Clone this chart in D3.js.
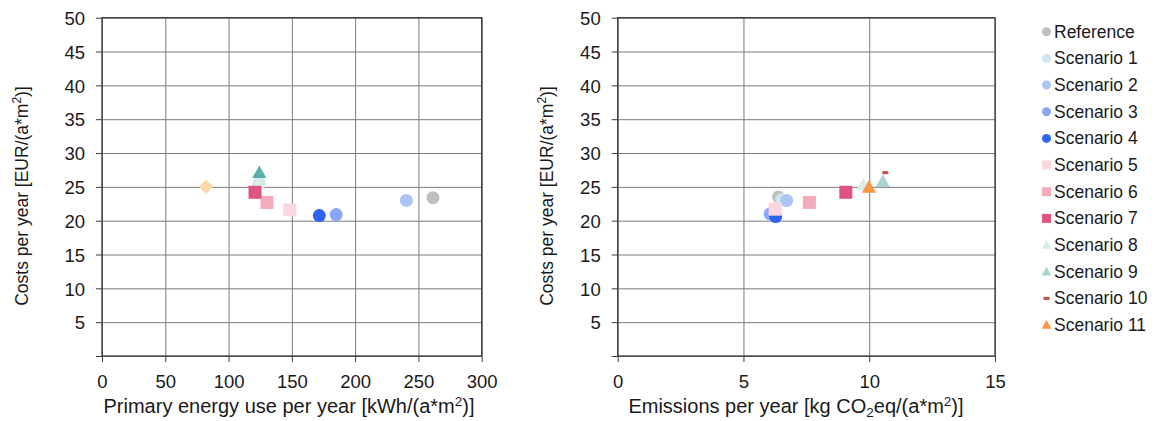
<!DOCTYPE html>
<html><head><meta charset="utf-8">
<script src="https://cdn.jsdelivr.net/npm/d3@7"></script>
<style>body{margin:0;background:#fff}svg{display:block;font-family:"Liberation Sans",Arial,sans-serif}</style>
</head><body><svg id="c" width="1158" height="421"></svg>
<script>
const seriesNames = ["Reference","Scenario 1","Scenario 2","Scenario 3","Scenario 4","Scenario 5","Scenario 6","Scenario 7","Scenario 8","Scenario 9","Scenario 10","Scenario 11"];
const seriesShapes = ["circle","circle","circle","circle","circle","square","square","square","triangle","triangle","dash","triangle"];
const seriesColors = ["#bfbfbf","#d2e6ea","#adc5f5","#8ba6f8","#2f63f5","#fcd6df","#f4abbc","#df5380","#d8ecea","#a9d6d3","#c0504d","#f79646"];
// Left chart: primary energy [kWh/(a*m2)] vs costs [EUR/(a*m2)]
const energyValues = [261.5, 124, 240.5, 185, 171.7, 148.5, 130.4, 120.9, 123.5, 124.3, null, null];
const energyCosts  = [23.4, 25.5, 23.0, 20.9, 20.75, 21.6, 22.7, 24.2, 25.5, 27.1, null, null];
const energyColorOverride = {"Scenario 9": "#5aaeab"};
const extraDiamondX = [82.2];
const extraDiamondY = [25.0];
const extraDiamondColor = "#fdd8a6";
// Right chart: emissions [kg CO2eq/(a*m2)] vs costs
const emissionValues = [6.39, 6.52, 6.72, 6.06, 6.28, 6.26, 7.62, 9.07, 9.77, 10.54, 10.64, 9.99];
const emissionCosts  = [23.5, 23.1, 22.97, 21.0, 20.6, 21.7, 22.7, 24.2, 25.3, 25.8, 27.1, 24.95];
const yTicks = [5,10,15,20,25,30,35,40,45,50];
const xTicksLeft = [0,50,100,150,200,250,300];
const xTicksRight = [0,5,10,15];

const svg = d3.select("#c");
const gridColor = "#7a7a7a", borderColor = "#3a3a3a", textColor = "#1a1a1a";
const FS = 18.5, XTFS = 20, YTFS = 17.5;

function drawMarker(g, shape, cx, cy, size, color) {
  if (shape === "circle") g.append("circle").attr("cx",cx).attr("cy",cy).attr("r",size/2).attr("fill",color);
  else if (shape === "square") g.append("rect").attr("x",cx-size/2).attr("y",cy-size/2).attr("width",size).attr("height",size).attr("fill",color);
  else if (shape === "triangle") g.append("path").attr("d",`M${cx},${cy-size*0.55}L${cx+size*0.55},${cy+size*0.42}L${cx-size*0.55},${cy+size*0.42}Z`).attr("fill",color);
  else if (shape === "dash") g.append("rect").attr("x",cx-size*0.3).attr("y",cy-1.5).attr("width",size*0.6).attr("height",3).attr("fill",color);
  else if (shape === "diamond") g.append("path").attr("d",`M${cx},${cy-size*0.55}L${cx+size*0.55},${cy}L${cx},${cy+size*0.55}L${cx-size*0.55},${cy}Z`).attr("fill",color);
}

function panel(opts) {
  const x = d3.scaleLinear().domain(opts.xDomain).range([opts.left, opts.right]);
  const y = d3.scaleLinear().domain([0,50]).range([356, 17.7]);
  const g = svg.append("g");
  g.append("g").attr("transform",`translate(${opts.left},0)`)
    .call(d3.axisLeft(y).tickValues([0].concat(yTicks)).tickSize(-(opts.right-opts.left)).tickFormat(""))
    .call(a=>a.select(".domain").remove())
    .call(a=>a.selectAll("line").attr("stroke",gridColor).attr("stroke-width",1));
  g.append("g").attr("transform",`translate(0,17.7)`)
    .call(d3.axisBottom(x).tickValues(opts.xTicks).tickSize(356-17.7).tickFormat(""))
    .call(a=>a.select(".domain").remove())
    .call(a=>a.selectAll("line").attr("stroke",gridColor).attr("stroke-width",1));
  const ya = g.append("g").attr("transform",`translate(${opts.left},0)`)
    .call(d3.axisLeft(y).tickValues([0].concat(yTicks)).tickSize(6).tickPadding(11).tickFormat(d=>d===0?"":d));
  ya.select(".domain").remove();
  ya.selectAll("line").attr("stroke",borderColor);
  ya.selectAll("text").attr("font-size",FS).attr("fill",textColor).attr("font-family","Liberation Sans, Arial, sans-serif").attr("dy","0.36em");
  const xa = g.append("g").attr("transform",`translate(0,356)`)
    .call(d3.axisBottom(x).tickValues(opts.xTicks).tickSize(6).tickPadding(13));
  xa.select(".domain").remove();
  xa.selectAll("line").attr("stroke",borderColor);
  xa.selectAll("text").attr("font-size",FS).attr("fill",textColor).attr("font-family","Liberation Sans, Arial, sans-serif");
  g.append("rect").attr("x",opts.left).attr("y",17.7).attr("width",opts.right-opts.left).attr("height",356-17.7)
    .attr("fill","none").attr("stroke",borderColor).attr("stroke-width",1.3);
  const yt = g.append("text").attr("transform",`translate(${opts.yTitleX},196) rotate(-90)`)
    .attr("text-anchor","middle").attr("font-size",YTFS).attr("fill",textColor);
  yt.append("tspan").text("Costs per year [EUR/(a*m");
  yt.append("tspan").attr("font-size",12).attr("dy",-7).text("2");
  yt.append("tspan").attr("dy",7).text(")]");
  const xt = g.append("text").attr("x",opts.xTitleX).attr("y",413)
    .attr("text-anchor","middle").attr("font-size",XTFS).attr("fill",textColor);
  opts.xTitle(xt);
  const pg = g.append("g");
  opts.points(pg, x, y);
}

panel({
  left: 102, right: 481.7, xDomain: [0,300], xTicks: xTicksLeft, yTitleX: 28, xTitleX: 289,
  xTitle: t => { t.append("tspan").text("Primary energy use per year [kWh/(a*m"); t.append("tspan").attr("font-size",13.5).attr("dy",-7).text("2"); t.append("tspan").attr("dy",7).text(")]"); },
  points: (pg, x, y) => {
    extraDiamondX.forEach((v,i)=>drawMarker(pg,"diamond",x(v),y(extraDiamondY[i]),13,extraDiamondColor));
    const order = [0,2,3,4,5,6,1,8,7,9];
    order.forEach(i => {
      if (energyValues[i]==null) return;
      const col = energyColorOverride[seriesNames[i]] || seriesColors[i];
      drawMarker(pg, seriesShapes[i], x(energyValues[i]), y(energyCosts[i]), 13, col);
    });
  }
});

panel({
  left: 617.7, right: 995, xDomain: [0,15], xTicks: xTicksRight, yTitleX: 553, xTitleX: 796,
  xTitle: t => { t.append("tspan").text("Emissions per year [kg CO"); t.append("tspan").attr("font-size",13.5).attr("dy",4).text("2"); t.append("tspan").attr("dy",-4).text("eq/(a*m"); t.append("tspan").attr("font-size",13.5).attr("dy",-7).text("2"); t.append("tspan").attr("dy",7).text(")]"); },
  points: (pg, x, y) => {
    const order = [0,1,2,3,4,5,6,7,8,11,9,10];
    order.forEach(i => {
      if (emissionValues[i]==null) return;
      drawMarker(pg, seriesShapes[i], x(emissionValues[i]), y(emissionCosts[i]), seriesShapes[i]==="dash"?10:13, seriesColors[i]);
    });
  }
});

const lg = svg.append("g");
seriesNames.forEach((n,i) => {
  const cy = 31.7 + i*26.67;
  drawMarker(lg, seriesShapes[i], 1046.5, cy, seriesShapes[i]==="dash"?10:9, seriesColors[i]);
  lg.append("text").attr("x",1054).attr("y",cy+6).attr("font-size",17.5).attr("fill",textColor).text(n);
});
</script></body></html>
